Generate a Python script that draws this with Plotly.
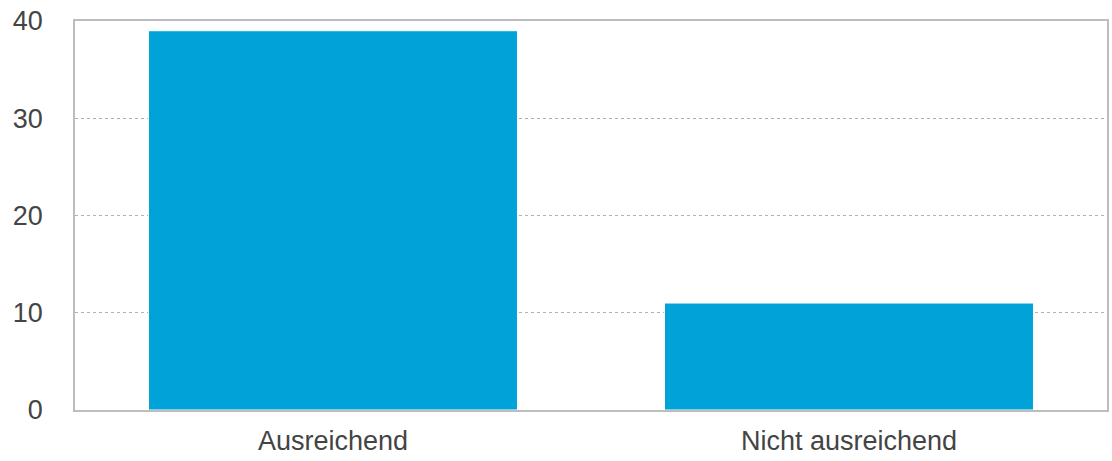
import plotly.graph_objects as go

categories = ["Ausreichend", "Nicht ausreichend"]
values = [39, 11]
y_ticks = [0, 10, 20, 30, 40]

fig = go.Figure(
    go.Bar(
        x=categories,
        y=values,
        marker=dict(color="#00A3D8", line=dict(color="white", width=1)),
        hoverinfo="x+y",
    )
)

fig.update_layout(
    width=1112,
    height=461,
    margin=dict(l=75, r=5, t=21, b=51, autoexpand=False),
    paper_bgcolor="white",
    plot_bgcolor="white",
    bargap=0.285,
    showlegend=False,
    font=dict(family="Liberation Sans, Arial, sans-serif", size=27, color="#444444"),
)

fig.update_yaxes(
    range=[0, 40],
    tickvals=y_ticks,
    showgrid=True,
    gridcolor="#b0b0b0",
    gridwidth=1,
    griddash="3px,3px",
    showline=True,
    mirror=True,
    linecolor="#bdbdbd",
    linewidth=1.5,
    zeroline=False,
    ticks="",
    ticklabelstandoff=25,
    tickfont=dict(size=27, color="#444444"),
)

fig.update_xaxes(
    showline=True,
    mirror=True,
    linecolor="#bdbdbd",
    linewidth=1.5,
    showgrid=False,
    ticks="",
    ticklabelstandoff=6,
    tickfont=dict(size=27, color="#444444"),
)

fig.write_html(
    "out.html",
    config={"displayModeBar": False},
    post_script="document.body.style.margin='0';document.body.style.overflow='hidden';",
)
